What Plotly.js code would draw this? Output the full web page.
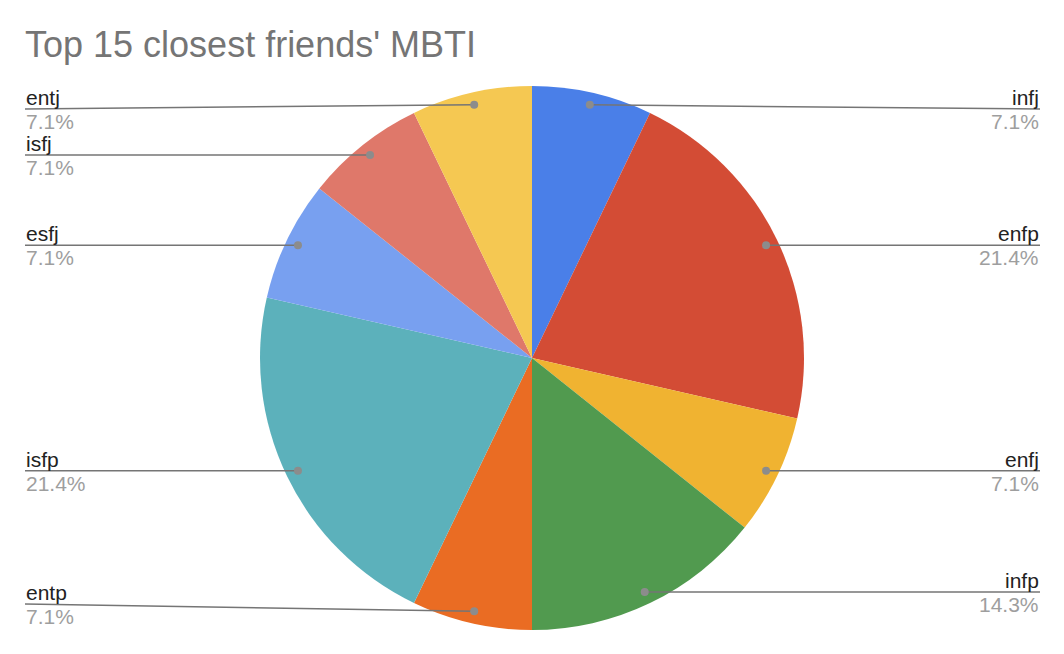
<!DOCTYPE html>
<html>
<head>
<meta charset="utf-8">
<script src="https://cdn.plot.ly/plotly-3.0.1.min.js"></script>
<style>
  html, body { margin: 0; padding: 0; background: #fff; }
  #chart { width: 1064px; height: 654px; }
</style>
</head>
<body>
<div id="chart"></div>
<script>
// Data (clockwise from 12 o'clock)
const types = ['infj', 'enfp', 'enfj', 'infp', 'entp', 'isfp', 'esfj', 'isfj', 'entj'];
const counts = [1, 3, 1, 2, 1, 3, 1, 1, 1];
const sliceColors = ['#4a7fe8', '#d34c35', '#f0b331', '#519a4f', '#ea6c23', '#5cb1bb', '#78a0f0', '#df786a', '#f5c852'];
const chartTitle = "Top 15 closest friends' MBTI";

const W = 1064, H = 654;
const cx = 532, cy = 358, R = 272;
const FONT = '"Liberation Sans", Arial, Helvetica, sans-serif';

// pixel -> paper helpers
const px = x => x / W;
const py = y => 1 - y / H;

const total = counts.reduce((a, b) => a + b, 0);

const shapes = [];
const annotations = [];
let cum = 0;
counts.forEach((v, i) => {
  const mid = (cum + v / 2) / total * 2 * Math.PI; // clockwise from top
  cum += v;
  const dx = cx + Math.sin(mid) * R * 0.955;
  const dy = cy - Math.cos(mid) * R * 0.955;
  const right = dx >= cx;
  const ly = Math.min(Math.max(dy, 109), 604);
  const lx = right ? 1040 : 25;

  // leader line + dot
  shapes.push({ type: 'line', xref: 'paper', yref: 'paper',
    x0: px(lx), y0: py(ly), x1: px(dx), y1: py(dy),
    line: { color: '#757575', width: 1.5 } });
  shapes.push({ type: 'circle', xref: 'paper', yref: 'paper',
    x0: px(dx - 4), x1: px(dx + 4), y0: py(dy + 4), y1: py(dy - 4),
    fillcolor: '#8c8c8c', line: { width: 0 } });

  const pct = (v / total * 100).toFixed(1) + '%';
  annotations.push({ xref: 'paper', yref: 'paper', x: px(lx), y: py(ly),
    xanchor: right ? 'right' : 'left', yanchor: 'bottom', showarrow: false,
    text: types[i], font: { family: FONT, size: 21, color: '#222222' }, borderpad: 0, yshift: -1 });
  annotations.push({ xref: 'paper', yref: 'paper', x: px(lx), y: py(ly),
    xanchor: right ? 'right' : 'left', yanchor: 'top', showarrow: false,
    text: pct, font: { family: FONT, size: 21, color: '#9e9e9e' }, borderpad: 0, yshift: 0 });
});

const trace = {
  type: 'pie',
  values: counts,
  labels: types,
  sort: false,
  direction: 'clockwise',
  rotation: 0,
  textinfo: 'none',
  hoverinfo: 'label+percent',
  marker: { colors: sliceColors, line: { width: 0 } },
  domain: { x: [px(cx - R), px(cx + R)], y: [py(cy + R), py(cy - R)] },
  showlegend: false
};

const layout = {
  width: W,
  height: H,
  margin: { l: 0, r: 0, t: 0, b: 0 },
  paper_bgcolor: '#ffffff',
  showlegend: false,
  title: {
    text: chartTitle,
    x: px(25), xanchor: 'left', xref: 'paper',
    y: 1 - 44 / H, yanchor: 'middle', yref: 'container',
    font: { family: FONT, size: 36, color: '#757575' }
  },
  shapes: shapes,
  annotations: annotations
};

Plotly.newPlot('chart', [trace], layout, { displayModeBar: false, staticPlot: true });
</script>
</body>
</html>
